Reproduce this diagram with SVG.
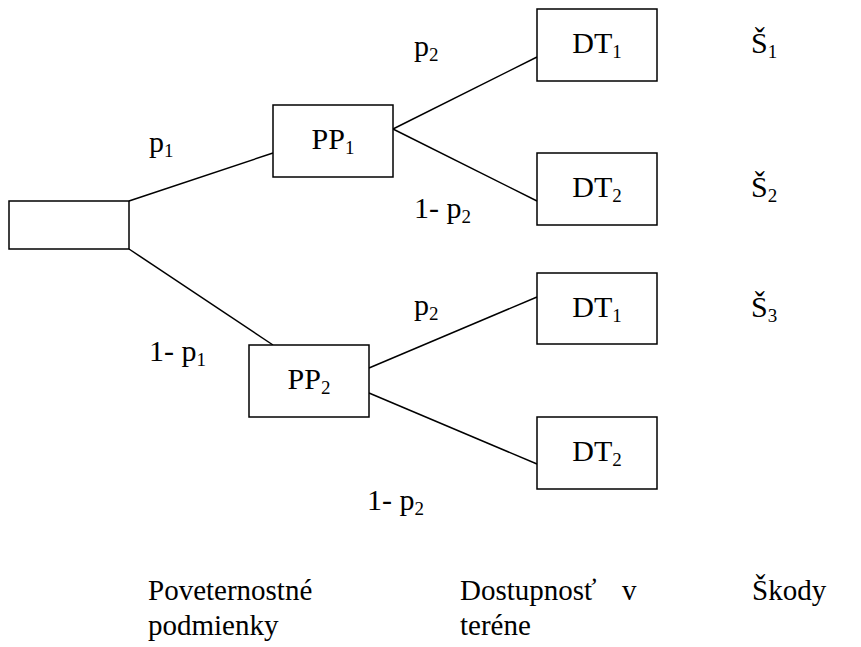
<svg xmlns="http://www.w3.org/2000/svg" width="861" height="647" viewBox="0 0 861 647">
<defs>
<style>
.box{fill:#fff;stroke:#000;stroke-width:1.5}
.ln{stroke:#000;stroke-width:1.5;fill:none}
text{font-size:30px;fill:#000}
.s{font-size:19px}
.c{text-anchor:middle}
.f{font-size:29px}
</style>
</defs>
<rect width="861" height="647" fill="#fff"/>
<g id="connectors">
<line class="ln" x1="129" y1="201" x2="273" y2="153"/>
<line class="ln" x1="129" y1="249" x2="273" y2="345"/>
<line class="ln" x1="393" y1="129" x2="537" y2="57"/>
<line class="ln" x1="393" y1="129" x2="537" y2="201"/>
<line class="ln" x1="369" y1="368" x2="537" y2="297"/>
<line class="ln" x1="369" y1="393" x2="537" y2="464"/>
</g>
<g font-family="Liberation Serif, Times New Roman, Tinos, Noto Serif, DejaVu Serif, FreeSerif, serif">
<g id="root"><rect class="box" x="9" y="201" width="120" height="48"/></g>
<g id="pp1"><rect class="box" x="273" y="105" width="120" height="72"/><text class="c" x="333" y="149">PP<tspan class="s" dy="5">1</tspan></text></g>
<g id="pp2"><rect class="box" x="249" y="345" width="120" height="72"/><text class="c" x="309" y="389">PP<tspan class="s" dy="5">2</tspan></text></g>
<g id="dt1a"><rect class="box" x="537" y="9" width="120" height="72"/><text class="c" x="597" y="53">DT<tspan class="s" dy="5">1</tspan></text></g>
<g id="dt2a"><rect class="box" x="537" y="153" width="120" height="72"/><text class="c" x="597" y="197">DT<tspan class="s" dy="5">2</tspan></text></g>
<g id="dt1b"><rect class="box" x="537" y="273" width="120" height="71"/><text class="c" x="597" y="317">DT<tspan class="s" dy="5">1</tspan></text></g>
<g id="dt2b"><rect class="box" x="537" y="417" width="120" height="72"/><text class="c" x="597" y="461">DT<tspan class="s" dy="5">2</tspan></text></g>
<g id="labels">
<text x="149" y="152">p<tspan class="s" dy="5">1</tspan></text>
<text x="149" y="361">1- p<tspan class="s" dy="5">1</tspan></text>
<text x="414" y="56">p<tspan class="s" dy="5">2</tspan></text>
<text x="414" y="218">1- p<tspan class="s" dy="5">2</tspan></text>
<text x="414" y="315">p<tspan class="s" dy="5">2</tspan></text>
<text x="367" y="510">1- p<tspan class="s" dy="5">2</tspan></text>
<text x="751" y="53">Š<tspan class="s" dy="5">1</tspan></text>
<text x="751" y="197">Š<tspan class="s" dy="5">2</tspan></text>
<text x="751" y="317">Š<tspan class="s" dy="5">3</tspan></text>
</g>
<g id="footer">
<text class="f" x="148" y="600">Poveternostné</text>
<text class="f" x="148" y="635">podmienky</text>
<text class="f" x="460" y="600">Dostupnosť<tspan x="622">v</tspan></text>
<text class="f" x="460" y="635">teréne</text>
<text class="f" x="752" y="600">Škody</text>
</g>
</g>
</svg>
